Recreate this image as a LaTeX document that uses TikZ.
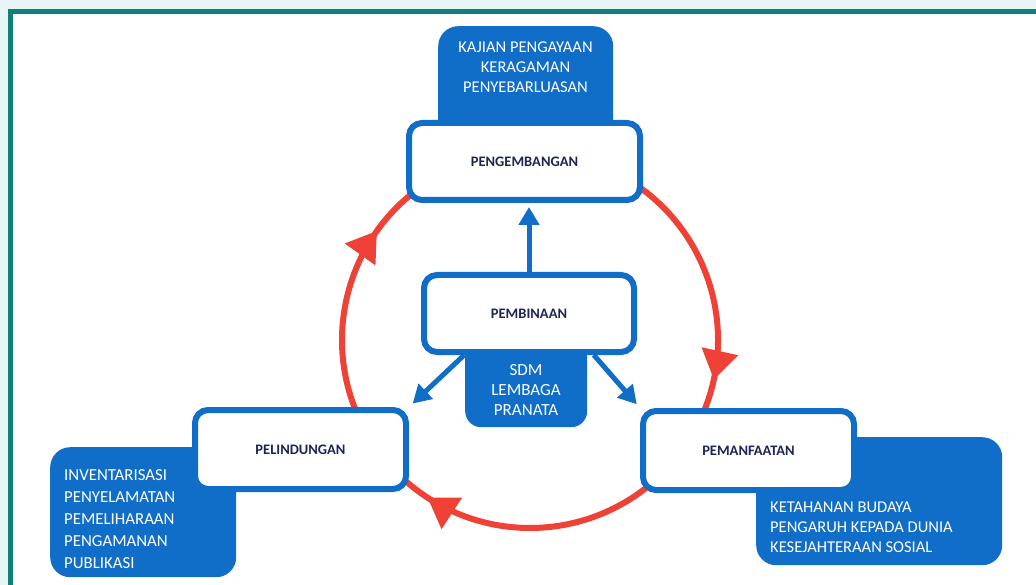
\documentclass[tikz,border=0pt]{standalone}
\usepackage{fontspec}
\setmainfont{Carlito}
\usetikzlibrary{arrows.meta,decorations.markings,calc}
\definecolor{bblue}{HTML}{106EC8}
\definecolor{rred}{HTML}{EF4136}
\definecolor{navy}{HTML}{1F2456}
\definecolor{teal}{HTML}{0E7F7B}
\definecolor{pale}{HTML}{E8F5F5}
\tikzset{
  wbox/.style={draw=bblue, line width=6pt, fill=white, rounded corners=13pt, inner sep=0pt,
    font=\fontsize{14.5}{16}\selectfont\bfseries, text=navy},
  bluebg/.style={fill=bblue, rounded corners=20pt, inner sep=0pt, anchor=north west},
  wtext/.style={text=white, inner sep=0pt, font=\fontsize{16.5}{20}\selectfont},
  redarc/.style={draw=rred, line width=6pt},
  bluearrow/.style={draw=bblue, line width=5pt, -{Triangle[length=18pt,width=20pt]}},
  redtip/.style={postaction={decorate}, decoration={markings,
    mark=at position #1 with {\arrow[rred]{Triangle[length=29pt,width=36pt]}}}}
}
\begin{document}
\begin{tikzpicture}[x=1pt,y=1pt]
\useasboundingbox (0,0) rectangle (1036,-585);
% background and frame
\fill[pale] (0,0) rectangle (1036,-585);
\fill[white] (10,-12) rectangle (1036,-585);
\draw[teal, line width=5pt] (10,-585) -- (10,-12) -- (1036,-12);
% circle arcs
\coordinate (c) at (530,-340);
\draw[redarc, redtip=0.85] (c) ++(55:188) arc[start angle=55, end angle=-24, radius=188];
\draw[redarc, redtip=0.88] (c) ++(-50:188) arc[start angle=-50, end angle=-133, radius=188];
\draw[redarc, redtip=0.78] (c) ++(-157:188) arc[start angle=-157, end angle=-232, radius=188];
% blue backgrounds
\node[bluebg, minimum width=175pt, minimum height=124pt] (kajianbg) at (438,-26) {};
\node[bluebg, rounded corners=16pt, minimum width=122pt, minimum height=90pt] (sdmbg) at (465,-337) {};
\node[bluebg, minimum width=186pt, minimum height=130pt] (leftbg) at (50,-447) {};
\node[bluebg, minimum width=246pt, minimum height=128pt] (rightbg) at (756,-437) {};
% white boxes
\node[wbox, minimum width=231pt, minimum height=77pt] (peng) at (524.5,-161.5) {PENGEMBANGAN};
\node[wbox, minimum width=210pt, minimum height=77pt] (pemb) at (529,-313.5) {PEMBINAAN};
\node[wbox, minimum width=211pt, minimum height=79pt] (pelind) at (300.5,-449.5) {PELINDUNGAN};
\node[wbox, minimum width=211pt, minimum height=79pt] (pemanf) at (748.5,-450.5) {PEMANFAATAN};
% texts
\node[wtext, align=center] (kajian) at (525.5,-67) {KAJIAN PENGAYAAN\\KERAGAMAN\\PENYEBARLUASAN};
\node[wtext, align=center, font=\fontsize{17}{20}\selectfont] (sdm) at (526,-390) {SDM\\LEMBAGA\\PRANATA};
\node[wtext, align=left, anchor=north west, font=\fontsize{16.8}{22}\selectfont] (leftt) at (64,-469) {INVENTARISASI\\PENYELAMATAN\\PEMELIHARAAN\\PENGAMANAN\\PUBLIKASI};
\node[wtext, align=left, anchor=north west] (rightt) at (770,-502) {KETAHANAN BUDAYA\\PENGARUH KEPADA DUNIA\\KESEJAHTERAAN SOSIAL};
% blue arrows
\draw[bluearrow, shorten >=4pt] (pemb.north) -- (pemb.north |- peng.south);
\draw[bluearrow, shorten >=5pt] ($(pemb.south west)!0.2!(pemb.south east)$) -- (pelind.north east);
\draw[bluearrow, shorten >=5pt] ($(pemb.south west)!0.8!(pemb.south east)$) -- (pemanf.north west);
\end{tikzpicture}
\end{document}
